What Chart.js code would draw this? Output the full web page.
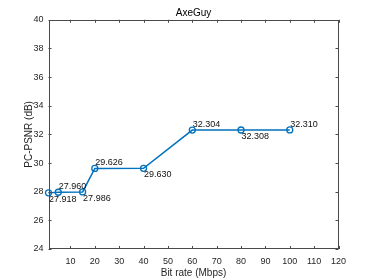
<!DOCTYPE html>
<html>
<head>
<meta charset="utf-8">
<script src="https://cdn.jsdelivr.net/npm/chart.js@4/dist/chart.umd.min.js"></script>
<style>
html,body{margin:0;padding:0;background:#fff;}
#wrap{width:374px;height:280px;}
</style>
</head>
<body>
<div id="wrap"><canvas id="c" width="374" height="280"></canvas></div>
<script>
const bitRates = [1, 5, 15, 20, 40, 60, 80, 100];
const psnr = [27.918, 27.960, 27.986, 29.626, 29.630, 32.304, 32.308, 32.310];
const pointLabels = ['27.918', '27.960', '27.986', '29.626', '29.630', '32.304', '32.308', '32.310'];
const xTicks = [10, 20, 30, 40, 50, 60, 70, 80, 90, 100, 110, 120];
const yTicks = [24, 26, 28, 30, 32, 34, 36, 38, 40];

const FONT = '"Liberation Sans", Arial, Helvetica, sans-serif';
const AXIS = '#4a4a4a';
const TEXT = '#262626';

const frame = {
  id: 'frame',
  afterDraw(chart) {
    const {ctx, chartArea: a, scales: {x, y}} = chart;
    ctx.save();
    ctx.strokeStyle = AXIS;
    ctx.lineWidth = 1;
    ctx.strokeRect(Math.round(a.left) + 0.5, Math.round(a.top) + 0.5,
                   Math.round(a.right - a.left) - 1, Math.round(a.bottom - a.top) - 1);
    const tl = 3;
    ctx.beginPath();
    xTicks.forEach(v => {
      const px = Math.round(x.getPixelForValue(v)) + 0.5;
      ctx.moveTo(px, a.bottom); ctx.lineTo(px, a.bottom - tl);
      ctx.moveTo(px, a.top); ctx.lineTo(px, a.top + tl);
    });
    yTicks.forEach(v => {
      const py = Math.round(y.getPixelForValue(v)) + 0.5;
      ctx.moveTo(a.left, py); ctx.lineTo(a.left + tl, py);
      ctx.moveTo(a.right, py); ctx.lineTo(a.right - tl, py);
    });
    ctx.stroke();
    // data labels
    ctx.fillStyle = '#111';
    ctx.font = '9px ' + FONT;
    ctx.textAlign = 'left';
    ctx.textBaseline = 'middle';
    const meta = chart.getDatasetMeta(0);
    meta.data.forEach((pt, i) => {
      const dy = (i % 2 === 0) ? 6.5 : -5.5;
      ctx.fillText(pointLabels[i], pt.x + 0.5, pt.y + dy);
    });
    ctx.restore();
  }
};

new Chart(document.getElementById('c'), {
  type: 'line',
  data: {
    datasets: [{
      data: bitRates.map((b, i) => ({x: b, y: psnr[i]})),
      borderColor: '#0072BD',
      backgroundColor: 'rgba(0,0,0,0)',
      borderWidth: 1.5,
      pointRadius: 3,
      pointBorderWidth: 1.3,
      pointBackgroundColor: 'rgba(0,0,0,0)',
      pointBorderColor: '#0072BD',
      tension: 0,
      clip: false
    }]
  },
  options: {
    responsive: false,
    animation: false,
    devicePixelRatio: 1,
    layout: {padding: {left: 0, right: 35.5, top: 0, bottom: 0}},
    plugins: {
      legend: {display: false},
      tooltip: {enabled: false},
      title: {
        display: true,
        text: 'AxeGuy',
        fullSize: false,
        color: '#000',
        font: {family: FONT, size: 10, weight: 'normal'},
        padding: {top: 7, bottom: 0.8}
      }
    },
    scales: {
      x: {
        type: 'linear',
        min: 1, max: 120,
        afterBuildTicks: s => { s.ticks = xTicks.map(v => ({value: v})); },
        afterFit: s => { s.height = 31; },
        grid: {display: false, drawTicks: false},
        border: {display: false},
        ticks: {font: {family: FONT, size: 9}, color: TEXT, padding: 7, maxRotation: 0, autoSkip: false},
        title: {display: true, text: 'Bit rate (Mbps)', color: TEXT,
                font: {family: FONT, size: 10}, padding: {top: 0, bottom: 0.4}}
      },
      y: {
        type: 'linear',
        min: 24, max: 40,
        afterBuildTicks: s => { s.ticks = yTicks.map(v => ({value: v})); },
        afterFit: s => { s.width = 48.5; },
        grid: {display: false, drawTicks: false},
        border: {display: false},
        ticks: {font: {family: FONT, size: 9}, color: TEXT, padding: 5, autoSkip: false},
        title: {display: true, text: 'PC-PSNR (dB)', color: TEXT,
                font: {family: FONT, size: 10}, padding: {top: 23.4, bottom: 0}}
      }
    }
  },
  plugins: [frame]
});
</script>
</body>
</html>
